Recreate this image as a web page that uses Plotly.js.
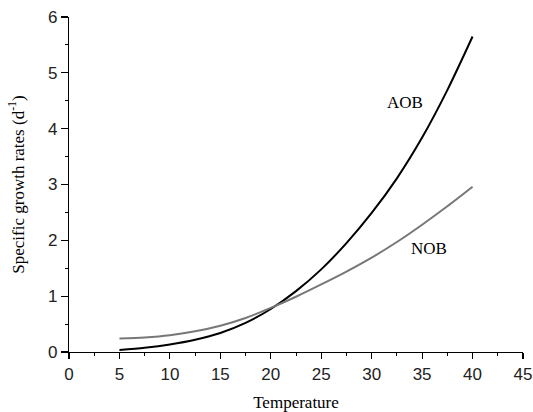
<!DOCTYPE html>
<html>
<head>
<meta charset="utf-8">
<script src="https://cdn.plot.ly/plotly-3.0.1.min.js"></script>
<style>html,body{margin:0;padding:0;background:#fff;}#chart{width:533px;height:412px;}</style>
</head>
<body>
<div id="chart"></div>
<script>
const temperature = [5, 7.5, 10, 12.5, 15, 17.5, 20, 22.5, 25, 27.5, 30, 32.5, 35, 37.5, 40];
const aob = [0.035, 0.075, 0.135, 0.22, 0.34, 0.52, 0.77, 1.09, 1.48, 1.95, 2.49, 3.11, 3.84, 4.69, 5.65];
const nob = [0.24, 0.26, 0.30, 0.37, 0.47, 0.61, 0.79, 0.99, 1.21, 1.44, 1.69, 1.97, 2.28, 2.61, 2.96];
const labels = [{text: "AOB", x: 33.3, y: 4.46}, {text: "NOB", x: 35.7, y: 1.86}];

const traces = [
  {x: temperature, y: aob, mode: "lines", line: {color: "#000000", width: 2, shape: "spline", smoothing: 0.8}, name: "AOB"},
  {x: temperature, y: nob, mode: "lines", line: {color: "#777777", width: 2, shape: "spline", smoothing: 0.8}, name: "NOB"}
];

const tickFont = {family: "Liberation Sans, Arial, sans-serif", size: 17, color: "#222"};
const titleFont = {family: "Liberation Serif, Times New Roman, serif", size: 17, color: "#000"};

const layout = {
  width: 533, height: 412,
  margin: {l: 69, r: 10, t: 17, b: 60},
  paper_bgcolor: "#fff", plot_bgcolor: "#fff",
  showlegend: false,
  xaxis: {
    range: [0, 45], tickvals: [0,5,10,15,20,25,30,35,40,45],
    showgrid: false, zeroline: false, showline: true, linecolor: "#000", linewidth: 1.2,
    ticks: "outside", ticklen: 6, tickwidth: 1.2, tickcolor: "#000",
    minor: {dtick: 2.5, ticks: "outside", ticklen: 3, tickwidth: 1, tickcolor: "#000", showgrid: false},
    tickfont: tickFont,
    title: {text: "Temperature", font: titleFont, standoff: 14}
  },
  yaxis: {
    range: [0, 6], dtick: 1, tick0: 0,
    showgrid: false, zeroline: false, showline: true, linecolor: "#000", linewidth: 1.2,
    ticks: "outside", ticklen: 7, tickwidth: 1.2, tickcolor: "#000",
    minor: {dtick: 0.5, ticks: "outside", ticklen: 3, tickwidth: 1, tickcolor: "#000", showgrid: false},
    tickfont: tickFont,
    title: {text: "Specific growth rates (d<sup>-1</sup>)", font: titleFont, standoff: 19}
  },
  annotations: labels.map(l => ({
    x: l.x, y: l.y, xref: "x", yref: "y", text: l.text, showarrow: false,
    font: {family: "Liberation Serif, Times New Roman, serif", size: 17, color: "#000"}
  }))
};

Plotly.newPlot("chart", traces, layout, {displayModeBar: false, staticPlot: true});
</script>
</body>
</html>
